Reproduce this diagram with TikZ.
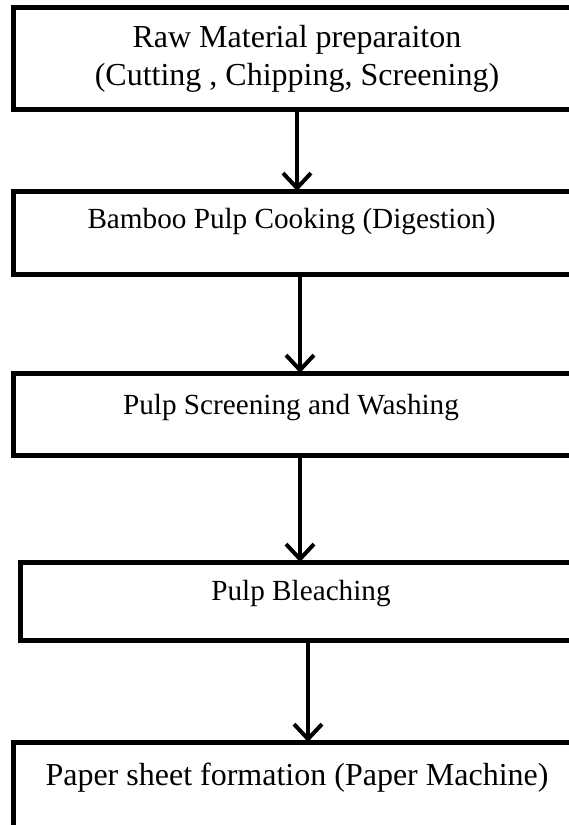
\documentclass[tikz,border=0pt]{standalone}
\usepackage{fontspec}
\setmainfont{Liberation Serif}
\usetikzlibrary{arrows.meta}
\begin{document}
\begin{tikzpicture}[x=1pt,y=-1pt,
  box/.style={draw=black, line width=5pt, rectangle, inner sep=0pt, outer sep=0pt},
  lbl/.style={inner sep=0pt, font=\fontsize{32}{38}\selectfont, align=center},
  slbl/.style={inner sep=0pt, anchor=base, font=\fontsize{29.2}{35}\selectfont},
  arr/.style={line width=4pt, -{Straight Barb[length=15pt,width=28pt,line width=4pt]}}]
\useasboundingbox (0,0) rectangle (569,825);
\fill[white] (0,0) rectangle (569,825);
\clip (0,0) rectangle (569,825);
% boxes (right side runs off the page)
\node[box, minimum width=607pt, minimum height=102pt] (b1) at (316.5,58) {};
\node[box, minimum width=607pt, minimum height=83pt] (b2) at (316.5,232.5) {};
\node[box, minimum width=607pt, minimum height=82pt] (b3) at (316.5,414) {};
\node[box, minimum width=600pt, minimum height=78pt] (b4) at (320,601) {};
\node[box, minimum width=607pt, minimum height=120pt] (b5) at (316.5,802) {};
% texts
\node[lbl] (t1) at (297,59) {Raw Material preparaiton\\(Cutting , Chipping, Screening)};
\node[slbl] (t2) at (291.5,228) {Bamboo Pulp Cooking (Digestion)};
\node[slbl] (t3) at (291,414) {Pulp Screening and Washing};
\node[slbl] (t4) at (301,600) {Pulp Bleaching};
\node[lbl] (t5) at (297,778) {Paper sheet formation (Paper Machine)};
% arrow columns
\coordinate (c1) at (297,0);
\coordinate (c2) at (300,0);
\coordinate (c3) at (300,0);
\coordinate (c4) at (308,0);
\draw[arr] (b1.south -| c1) -- (b2.north -| c1);
\draw[arr] (b2.south -| c2) -- (b3.north -| c2);
\draw[arr] (b3.south -| c3) -- (b4.north -| c3);
\draw[arr] (b4.south -| c4) -- (b5.north -| c4);
\end{tikzpicture}
\end{document}
